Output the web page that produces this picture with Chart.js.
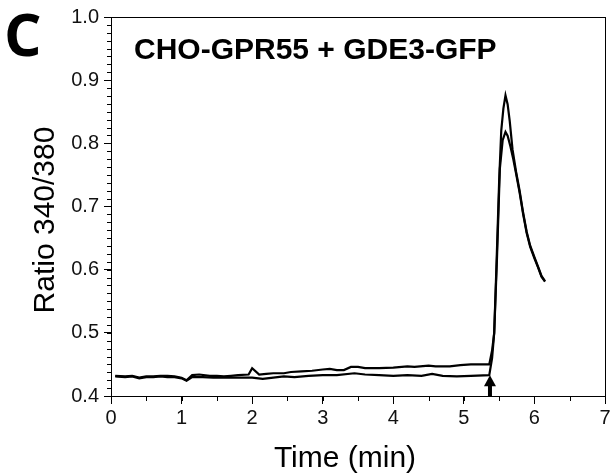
<!DOCTYPE html>
<html>
<head>
<meta charset="utf-8">
<script src="https://cdn.jsdelivr.net/npm/chart.js@4"></script>
<style>
  html, body { margin: 0; padding: 0; background: #fff; }
  #wrap { width: 613px; height: 476px; position: relative; }
</style>
</head>
<body>
<div id="wrap"><canvas id="chart"></canvas></div>
<script>
// time (min) and 340/380 ratio for the two traces
const timeA = [0.06, 0.2, 0.3, 0.4, 0.5, 0.6, 0.7, 0.8, 0.9, 1.0, 1.07, 1.15, 1.25, 1.4, 1.5, 1.6, 1.7, 1.8, 1.95, 2.0, 2.1, 2.2, 2.3, 2.45, 2.55, 2.7, 2.85, 3.0, 3.1, 3.2, 3.3, 3.4, 3.5, 3.6, 3.8, 4.0, 4.2, 4.3, 4.5, 4.6, 4.8, 4.95, 5.1, 5.36,
  5.40, 5.43, 5.46, 5.50, 5.53, 5.56, 5.59, 5.62, 5.65, 5.69, 5.74, 5.79, 5.84, 5.89, 5.94, 6.0, 6.05, 6.10, 6.15];
const ratioA = [0.432, 0.431, 0.432, 0.429, 0.431, 0.431, 0.432, 0.432, 0.431, 0.429, 0.425, 0.433, 0.434, 0.432, 0.432, 0.431, 0.432, 0.433, 0.434, 0.444, 0.434, 0.435, 0.436, 0.436, 0.438, 0.439, 0.440, 0.442, 0.443, 0.441, 0.441, 0.446, 0.446, 0.444, 0.444, 0.445, 0.447, 0.446, 0.448, 0.447, 0.447, 0.449, 0.450, 0.450,
  0.472, 0.50, 0.60, 0.74, 0.82, 0.855, 0.876, 0.862, 0.835, 0.79, 0.755, 0.725, 0.69, 0.66, 0.638, 0.62, 0.605, 0.590, 0.582];

const timeB = [0.06, 0.2, 0.3, 0.4, 0.5, 0.6, 0.7, 0.8, 0.9, 1.0, 1.07, 1.15, 1.3, 1.45, 1.6, 1.8, 2.0, 2.15, 2.3, 2.45, 2.6, 2.8, 3.0, 3.2, 3.45, 3.6, 3.8, 4.0, 4.2, 4.4, 4.55, 4.7, 4.9, 5.1, 5.36,
  5.40, 5.43, 5.47, 5.51, 5.55, 5.59, 5.62, 5.66, 5.70, 5.74, 5.79, 5.84, 5.89, 5.94, 6.0, 6.05, 6.10, 6.15];
const ratioB = [0.431, 0.430, 0.431, 0.428, 0.430, 0.430, 0.431, 0.430, 0.430, 0.428, 0.424, 0.430, 0.430, 0.429, 0.429, 0.429, 0.429, 0.427, 0.429, 0.431, 0.430, 0.432, 0.433, 0.433, 0.436, 0.434, 0.433, 0.432, 0.433, 0.432, 0.435, 0.432, 0.431, 0.432, 0.433,
  0.46, 0.50, 0.62, 0.76, 0.805, 0.818, 0.812, 0.795, 0.775, 0.752, 0.722, 0.688, 0.658, 0.636, 0.618, 0.604, 0.589, 0.581];

// stimulus arrow
const arrowTime = 5.37;
const arrowTop = 0.433;

const panelLabel = 'C';
const insetTitle = 'CHO-GPR55 + GDE3-GFP';
const xTitle = 'Time (min)';
const yTitle = 'Ratio 340/380';

const toPoints = (xs, ys) => xs.map((x, i) => ({ x, y: ys[i] }));

// box, minor ticks, arrow and texts
const decorations = {
  id: 'decorations',
  afterDraw(chart) {
    const { ctx, chartArea: a, scales } = chart;
    const xs = scales.x, ys = scales.y;
    ctx.save();
    ctx.strokeStyle = '#000';
    ctx.lineWidth = 1;
    ctx.strokeRect(a.left + 0.5, a.top + 0.5, a.right - a.left, a.bottom - a.top);

    // minor ticks
    ctx.beginPath();
    for (let v = xs.min; v <= xs.max + 1e-9; v += 0.5) {
      const px = Math.round(xs.getPixelForValue(v)) + 0.5;
      ctx.moveTo(px, a.bottom);
      ctx.lineTo(px, a.bottom + 5);
    }
    for (let i = 0; i <= 48; i++) {
      const py = Math.round(ys.getPixelForValue(ys.min + i * 0.0125)) + 0.5;
      ctx.moveTo(a.left, py);
      ctx.lineTo(a.left - 4, py);
    }
    ctx.stroke();

    // arrow
    const ax = xs.getPixelForValue(arrowTime);
    const ay = ys.getPixelForValue(arrowTop);
    ctx.fillStyle = '#000';
    ctx.fillRect(ax - 2, ay + 8, 4, a.bottom - ay - 8);
    ctx.beginPath();
    ctx.moveTo(ax, ay);
    ctx.lineTo(ax - 6, ay + 11);
    ctx.lineTo(ax + 6, ay + 11);
    ctx.closePath();
    ctx.fill();

    // texts
    ctx.fillStyle = '#000';
    ctx.textBaseline = 'alphabetic';
    ctx.textAlign = 'left';
    ctx.font = 'bold 59px "Open Sans", sans-serif';
    ctx.fillText(panelLabel, 4, 56);
    ctx.font = 'bold 30px "Liberation Sans", Arial, sans-serif';
    ctx.fillText(insetTitle, a.left + 23, a.top + 42);
    ctx.font = '30px "Liberation Sans", Arial, sans-serif';
    ctx.textAlign = 'center';
    ctx.fillText(xTitle, 345, 467);
    ctx.translate(54, 220);
    ctx.rotate(-Math.PI / 2);
    ctx.fillText(yTitle, 0, 0);
    ctx.restore();
  }
};

new Chart(document.getElementById('chart'), {
  type: 'line',
  data: {
    datasets: [
      { data: toPoints(timeA, ratioA), borderColor: '#000', borderWidth: 2.2, pointRadius: 0, tension: 0 },
      { data: toPoints(timeB, ratioB), borderColor: '#000', borderWidth: 2.2, pointRadius: 0, tension: 0 }
    ]
  },
  options: {
    responsive: true,
    maintainAspectRatio: false,
    animation: false,
    layout: { padding: { top: 16, right: 8, left: 0, bottom: 0 } },
    plugins: { legend: { display: false }, tooltip: { enabled: false } },
    scales: {
      x: {
        type: 'linear',
        min: 0,
        max: 7,
        afterFit(scale) { scale.height = 80; },
        grid: { drawOnChartArea: false, tickLength: 8, color: '#000' },
        border: { color: '#000', width: 1 },
        ticks: { stepSize: 1, color: '#111', padding: 2, font: { family: '"Liberation Sans", Arial, sans-serif', size: 20 } }
      },
      y: {
        min: 0.4,
        max: 1.0,
        afterFit(scale) { scale.width = 111; },
        grid: { drawOnChartArea: false, tickLength: 7, color: '#000' },
        border: { color: '#000', width: 1 },
        ticks: {
          stepSize: 0.1,
          color: '#111',
          padding: 5,
          font: { family: '"Liberation Sans", Arial, sans-serif', size: 20 },
          callback: v => v.toFixed(1)
        }
      }
    }
  },
  plugins: [decorations]
});
</script>
</body>
</html>
